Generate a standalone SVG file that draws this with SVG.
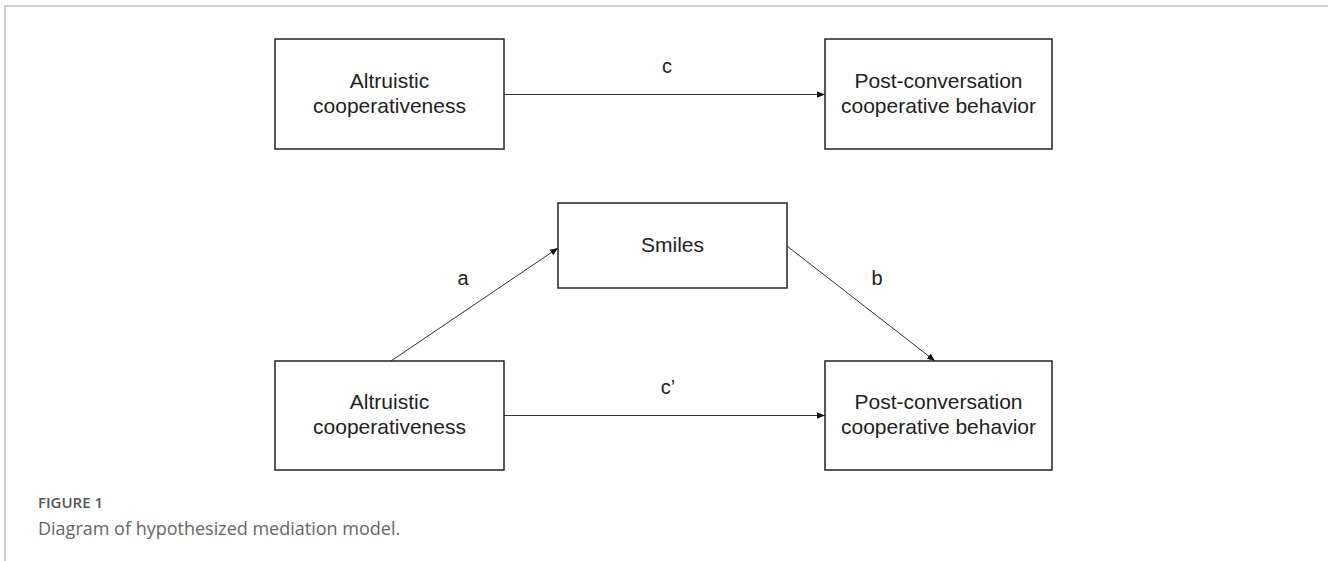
<svg xmlns="http://www.w3.org/2000/svg" width="1328" height="561" viewBox="0 0 1328 561">
<defs>
<style>
.box{fill:#fff;stroke:#222;stroke-width:1.5}
.t{font-family:"Liberation Sans",Arial,sans-serif;font-size:21px;fill:#222;text-anchor:middle}
.lbl{font-family:"Liberation Sans",Arial,sans-serif;font-size:20px;fill:#222;text-anchor:middle}
.ln{stroke:#333;stroke-width:1;fill:none;marker-end:url(#ah)}
.fig{font-family:"Open Sans","Noto Sans",sans-serif;font-size:15px;font-weight:600;fill:#555}
.cap{font-family:"Open Sans","Noto Sans",sans-serif;font-size:18px;fill:#666}
</style>
<marker id="ah" viewBox="0 0 10 10" refX="10" refY="5" markerWidth="8" markerHeight="8" markerUnits="userSpaceOnUse" orient="auto">
<path d="M0,1 L10,5 L0,9 Z" fill="#111"/>
</marker>
</defs>
<rect width="1328" height="561" fill="#fff"/>
<path d="M5,561 L5,6 L1328,6" fill="none" stroke="#cfcfcf" stroke-width="2"/>
<g id="connectors">
<line class="ln" x1="504" y1="94.5" x2="825" y2="94.5"/>
<line class="ln" x1="391" y1="361" x2="558" y2="248"/>
<line class="ln" x1="787" y1="246" x2="935" y2="361"/>
<line class="ln" x1="504" y1="415.5" x2="825" y2="415.5"/>
<text class="lbl" x="667" y="73">c</text>
<text class="lbl" x="463" y="285">a</text>
<text class="lbl" x="877" y="285">b</text>
<text class="lbl" x="668" y="394">c’</text>
</g>
<g id="n-alt-top">
<rect class="box" x="275" y="39" width="229" height="110"/>
<text class="t" x="389.5" y="88">Altruistic</text>
<text class="t" x="389.5" y="113">cooperativeness</text>
</g>
<g id="n-post-top">
<rect class="box" x="825" y="39" width="227" height="110"/>
<text class="t" x="938.5" y="88">Post-conversation</text>
<text class="t" x="938.5" y="113">cooperative behavior</text>
</g>
<g id="n-smiles">
<rect class="box" x="558" y="203" width="229" height="85"/>
<text class="t" x="672.5" y="252">Smiles</text>
</g>
<g id="n-alt-bottom">
<rect class="box" x="275" y="361" width="229" height="109"/>
<text class="t" x="389.5" y="409">Altruistic</text>
<text class="t" x="389.5" y="434">cooperativeness</text>
</g>
<g id="n-post-bottom">
<rect class="box" x="825" y="361" width="227" height="109"/>
<text class="t" x="938.5" y="409">Post-conversation</text>
<text class="t" x="938.5" y="434">cooperative behavior</text>
</g>
<g id="caption">
<text class="fig" x="38" y="508">FIGURE 1</text>
<text class="cap" x="38" y="535">Diagram of hypothesized mediation model.</text>
</g>
</svg>
